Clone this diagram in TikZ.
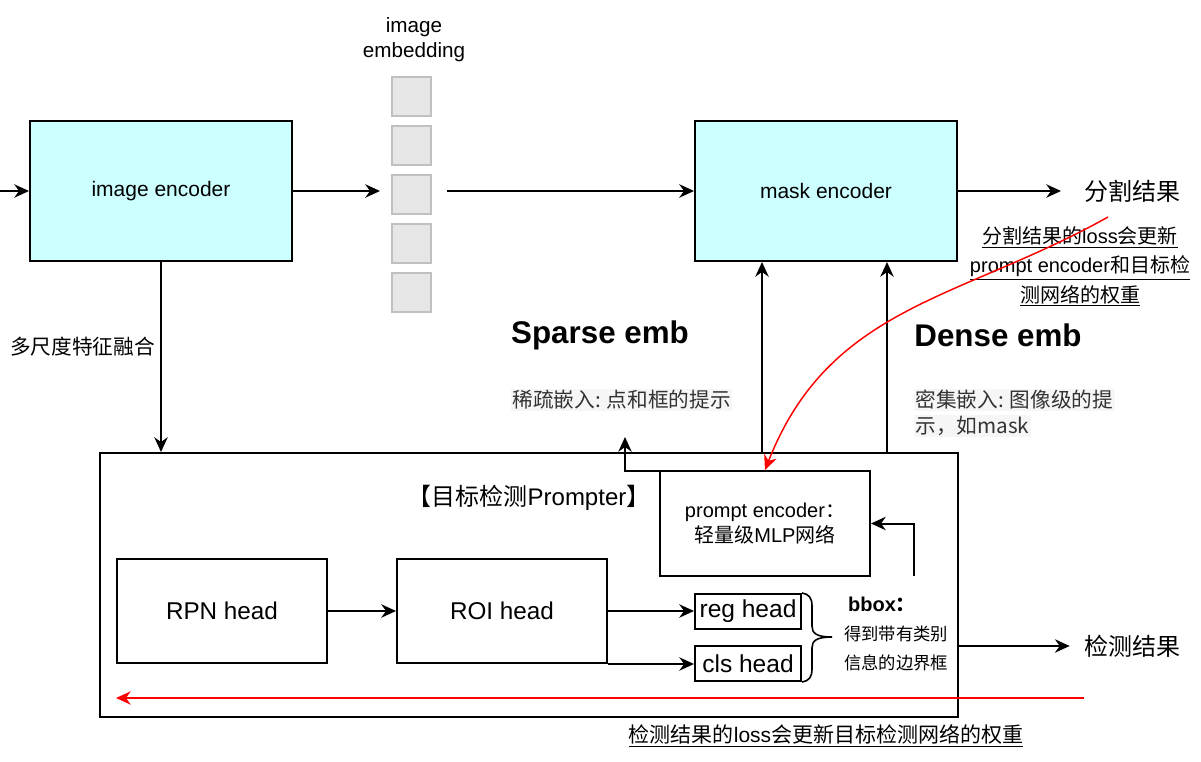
\documentclass[tikz,border=0pt]{standalone}
\usepackage{fontspec}
\setmainfont{Liberation Sans}
\newfontfamily\cjk{Noto Sans CJK SC}
\usetikzlibrary{arrows.meta}
\definecolor{enccyan}{RGB}{204,255,255}
\definecolor{embgray}{RGB}{230,230,230}
\definecolor{embline}{RGB}{192,192,192}
\definecolor{notegray}{RGB}{51,51,51}
\definecolor{noteback}{RGB}{246,246,246}

\begin{document}
\begin{tikzpicture}[x=0.75pt,y=0.75pt,yscale=-1,xscale=1,
  line width=1.5pt,
  arr/.style={-{Stealth[length=11pt,width=10pt,inset=3.5pt]}},
  redarr/.style={draw=red,line width=1.2pt,-{Stealth[length=11pt,width=10pt,inset=3.5pt]}},
  encbox/.style={draw,fill=enccyan,minimum width=196.5pt,minimum height=105pt,font=\fontsize{15.75}{19}\selectfont},
  headbox/.style={draw,minimum width=157.5pt,minimum height=78pt,font=\fontsize{18.2}{22}\selectfont},
  smallhead/.style={draw,minimum width=79.5pt,minimum height=26.25pt,inner sep=0pt,font=\fontsize{18.4}{22}\selectfont},
  embsq/.style={draw=embline,fill=embgray,minimum size=29.25pt,inner sep=0pt},
  txt/.style={inner sep=0pt},
  cjktxt/.style={inner sep=0pt,font=\cjk\fontsize{#1}{22}\selectfont},
  notebox/.style={inner sep=1pt,text=notegray,fill=noteback,font=\cjk\fontsize{15.5}{19.5}\selectfont}
]
\path [use as bounding box] (0,0) rectangle (1201,762);

% encoders and image embedding
\node [encbox] (imgenc) at (161,191) {image encoder};
\node [encbox] (maskenc) at (826,191) {mask encoder};
\foreach \i in {0,...,4}
  \node [embsq] (emb\i) at (411.5,97+49*\i) {};
\node [txt,align=center,font=\fontsize{15.5}{18.75}\selectfont] (embtitle) at (414,39.5) {image\\embedding};

\coordinate (src) at (0,191);
\coordinate (embin) at (380,191);
\coordinate (embout) at (447,191);
\draw [arr] (src) -- (imgenc.west);
\draw [arr] (imgenc.east) -- (embin);
\draw [arr] (embout) -- (maskenc.west);

\node [cjktxt=18] (segres) at (1132,191) {分割结果};
\draw [arr] (maskenc.east) -- ([xshift=-16.5pt]segres.west);

\node [txt,align=center,font=\fontsize{15}{22}\selectfont] (segnote) at (1080,266.5) {\underline{{\cjk 分割结果的}loss{\cjk 会更新}}\\\underline{prompt encoder{\cjk 和目标检}}\\\underline{{\cjk 测网络的权重}}};

\node [cjktxt=15.5,anchor=west] (fuselbl) at (9,347) {多尺度特征融合};

\node [txt,font=\bfseries\fontsize{23.5}{28}\selectfont] (sparselbl) at (600,335) {Sparse emb};
\node [txt,font=\bfseries\fontsize{23.5}{28}\selectfont] (denselbl) at (998,335) {Dense emb};
\node [notebox,anchor=west] (sparsenote) at (510,400) {稀疏嵌入: 点和框的提示};
\node [notebox,anchor=west] (densenote) at (913,400) {密集嵌入: 图像级的提};
\node [notebox,anchor=west] (densenote2) at (913,426) {示，如mask};

% prompter
\node [draw,minimum width=643.5pt,minimum height=198pt] (prompter) at (529,585) {};
\node [txt,font=\fontsize{18}{22}\selectfont] (prompttitle) at (529,498) {{\cjk 【目标检测}Prompter{\cjk 】}};
\node [headbox] (rpn) at (222,611) {RPN head};
\node [headbox] (roi) at (502,611) {ROI head};
\node [smallhead] (reg) at (748,611.5) {reg head};
\node [smallhead] (cls) at (748,663.5) {cls head};
\node [draw,minimum width=157.5pt,minimum height=78.75pt,align=center,font=\fontsize{15}{18.75}\selectfont] (penc) at (765,523.5) {prompt encoder{\cjk ：}\\{\cjk 轻量级}MLP{\cjk 网络}};

\draw [arr] (imgenc.south) -- (imgenc.south |- prompter.north);
\draw [arr] (rpn) -- (roi);
\draw [arr] (roi.east) -- (roi.east -| reg.west);
\draw [arr] (roi.south east) -- (roi.south east -| cls.west);

\draw [line width=1.2pt] (reg.north east) .. controls (809,594) and (812,598) .. (812,606) -- (812,626) .. controls (812,633) and (816,637) .. (832,637) .. controls (816,637) and (812,641) .. (812,648) -- (812,669) .. controls (812,677) and (809,681) .. (cls.south east);
\node [txt,font=\bfseries\fontsize{15}{18}\selectfont] (bboxlbl) at (882,604) {bbox{\cjk ：}};
\node [txt,align=center,font=\cjk\fontsize{13}{21.75}\selectfont] (bboxnote) at (896,648.5) {得到带有类别\\信息的边界框};

\coordinate (bboxup) at (914,576);
\draw [arr] (bboxup) |- (penc.east);

\coordinate (sparseup) at (762,453);
\coordinate (denseup) at (887,453);
\draw [arr] (sparseup) -- (sparseup |- maskenc.south);
\draw [arr] (denseup) -- (denseup |- maskenc.south);

\coordinate (sparsefrom) at (713,471);
\coordinate (sparsetip) at (625,437);
\draw [arr] (sparsefrom) -| (sparsetip);

\node [cjktxt=18] (detres) at (1132,646) {检测结果};
\draw [arr] (prompter.east |- detres) -- ([xshift=-10pt]detres.west);

% loss feedback
\coordinate (seglossfrom) at (1108,217);
\draw [redarr,line width=1.1pt] (seglossfrom) .. controls (960,300) and (830,305) .. (penc.north);
\coordinate (detlossfrom) at (1084,698);
\draw [redarr] (detlossfrom) -- (detlossfrom -| rpn.west);
\node [txt,font=\fontsize{15.75}{19}\selectfont] (detnote) at (826,736) {\underline{{\cjk 检测结果的}loss{\cjk 会更新目标检测网络的权重}}};
\end{tikzpicture}
\end{document}
